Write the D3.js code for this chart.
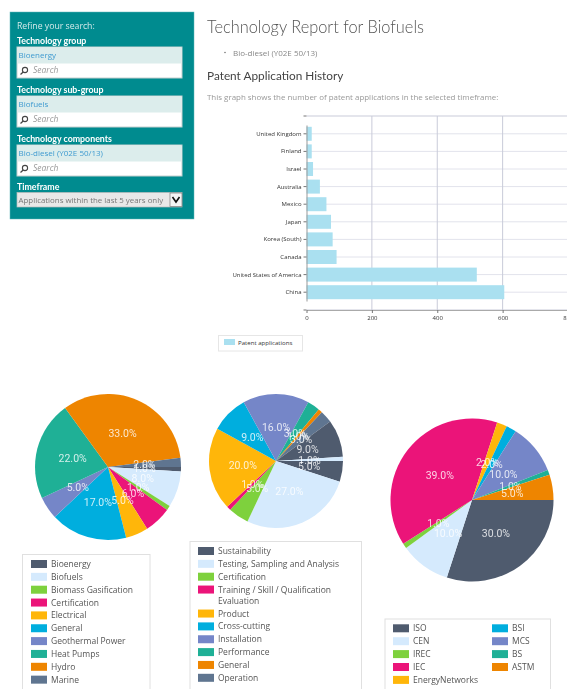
<!DOCTYPE html>
<html>
<head>
<meta charset="utf-8">
<script src="https://cdn.jsdelivr.net/npm/d3@7"></script>
<style>
    html, body { margin: 0; padding: 0; background: #fff; overflow: hidden; }
    svg { display: block; font-family: "Open Sans", sans-serif; filter: blur(0.45px); }
</style>
</head>
<body>
<svg width="567" height="689"></svg>
<script>
// Datos de la gráfica de barras
const countries = ['United Kingdom', 'Finland', 'Israel', 'Australia', 'Mexico', 'Japan', 'Korea (South)', 'Canada', 'United States of America', 'China'];
const patents = [16, 16, 20, 41, 61, 75, 80, 92, 521, 605];
const xTicks = [0, 200, 400, 600, 800];

// Datos de las tartas
const palette = ['#4f5b6e', '#d5eafd', '#7ed13d', '#eb1479', '#ffb60a', '#00aede', '#7586c8', '#1fb096', '#ee8500', '#5f7590'];
const pie1Names = ['Bioenergy', 'Biofuels', 'Biomass Gasification', 'Certification', 'Electrical', 'General', 'Geothermal Power', 'Heat Pumps', 'Hydro', 'Marine'];
const pie1Values = [1, 8, 1, 6, 5, 17, 5, 22, 33, 2];
const pie2Names = ['Sustainability', 'Testing, Sampling and Analysis', 'Certification', ['Training / Skill / Qualification', 'Evaluation'], 'Product', 'Cross-cutting', 'Installation', 'Performance', 'General', 'Operation'];
const pie2Values = [5, 27, 5, 1, 20, 9, 16, 3, 1, 3, 9, 1];
const pie3Names = ['ISO', 'CEN', 'IREC', 'IEC', 'EnergyNetworks', 'BSI', 'MCS', 'BS', 'ASTM'];
const pie3Values = [30, 10, 1, 39, 2, 2, 10, 1, 5];

// Textos del panel lateral
const filters = [
    { title: 'Technology group', value: 'Bioenergy', y: 47 },
    { title: 'Technology sub-group', value: 'Biofuels', y: 96 },
    { title: 'Technology components', value: 'Bio-diesel (Y02E 50/13)', y: 145 }
];

const svg = d3.select('svg');

function addText(parent, x, y, str, size, color) {
    return parent.append('text')
        .attr('x', x)
        .attr('y', y)
        .attr('font-size', size)
        .attr('fill', color)
        .text(str);
}

// Panel lateral
const side = svg.append('g');
side.append('rect').attr('x', 10).attr('y', 12).attr('width', 184).attr('height', 207)
    .attr('fill', '#008b8f').attr('stroke', '#5fb9bb').attr('stroke-width', 0.5);
addText(side, 17, 29, 'Refine your search:', 8.7, '#d4eaea');

filters.forEach(f => {
    addText(side, 17, f.y - 3, f.title, 8.8, '#ffffff').attr('font-family', 'Lato').attr('font-weight', 700);
    side.append('rect').attr('x', 17).attr('y', f.y).attr('width', 165).attr('height', 31)
        .attr('fill', '#fff').attr('stroke', '#c4cfcf').attr('stroke-width', 1);
    side.append('rect').attr('x', 17.5).attr('y', f.y + 0.5).attr('width', 164).attr('height', 16)
        .attr('fill', '#dcedec');
    addText(side, 18.5, f.y + 11, f.value, 8, '#3f9bd0');
    side.append('circle').attr('cx', 25).attr('cy', f.y + 23).attr('r', 2.6)
        .attr('fill', 'none').attr('stroke', '#444').attr('stroke-width', 1.1);
    side.append('line').attr('x1', 23.2).attr('y1', f.y + 25).attr('x2', 20.5).attr('y2', f.y + 27.5)
        .attr('stroke', '#444').attr('stroke-width', 1.3);
    addText(side, 33, f.y + 26, 'Search', 8.5, '#999').attr('font-style', 'italic');
});

addText(side, 17, 190, 'Timeframe', 8.8, '#ffffff').attr('font-family', 'Lato').attr('font-weight', 700);
side.append('rect').attr('x', 17).attr('y', 192.5).attr('width', 165).attr('height', 14.5)
    .attr('fill', '#e8e8e8').attr('stroke', '#bbb').attr('stroke-width', 0.7);
addText(side, 18.5, 203, 'Applications within the last 5 years only', 7.9, '#777');
side.append('rect').attr('x', 170).attr('y', 193).attr('width', 12).attr('height', 13.5)
    .attr('fill', '#f4f4f4').attr('stroke', '#777').attr('stroke-width', 0.7);
side.append('path').attr('d', 'M172.5,197 L176,202 L179.5,197')
    .attr('fill', 'none').attr('stroke', '#111').attr('stroke-width', 1.6);

// Cabecera
addText(svg, 207, 33, 'Technology Report for Biofuels', 18, '#555')
    .attr('font-family', 'Lato').attr('font-weight', 300)
    .attr('textLength', 217).attr('lengthAdjust', 'spacingAndGlyphs');
svg.append('circle').attr('cx', 225).attr('cy', 52.5).attr('r', 0.8).attr('fill', '#777');
addText(svg, 233, 55.5, 'Bio-diesel (Y02E 50/13)', 8, '#888');
addText(svg, 207, 80, 'Patent Application History', 11.8, '#444').attr('font-family', 'Lato');
addText(svg, 207, 100, 'This graph shows the number of patent applications in the selected timeframe:', 7.95, '#999');

// Gráfica de barras
const plot = { left: 306.5, right: 568, top: 116, bottom: 310 };
const x = d3.scaleLinear().domain([0, 800]).range([plot.left, plot.right]);
const y = d3.scaleBand().domain(countries).range([plot.top + 9, plot.bottom - 9]).paddingInner(0.2).paddingOuter(0.1);
const yMid = d => y(d) + y.bandwidth() / 2;

const bars = svg.append('g');
bars.selectAll('line.h').data(countries).enter().append('line')
    .attr('x1', plot.left).attr('x2', plot.right)
    .attr('y1', yMid).attr('y2', yMid)
    .attr('stroke', '#e2e3ec').attr('stroke-width', 1);
bars.selectAll('line.v').data(xTicks.slice(1)).enter().append('line')
    .attr('x1', d => x(d)).attr('x2', d => x(d))
    .attr('y1', plot.top).attr('y2', plot.bottom)
    .attr('stroke', '#c9cbd9').attr('stroke-width', 1);
[plot.top, plot.bottom].forEach(v => {
    bars.append('line').attr('x1', plot.left).attr('x2', plot.right).attr('y1', v).attr('y2', v)
        .attr('stroke', '#c9cbd9').attr('stroke-width', 1);
});
bars.selectAll('rect').data(countries).enter().append('rect')
    .attr('x', plot.left)
    .attr('y', d => yMid(d) - 7)
    .attr('width', (d, i) => x(patents[i]) - plot.left)
    .attr('height', 14)
    .attr('fill', '#aae0f0');

const xAxis = svg.append('g')
    .attr('transform', `translate(0,${plot.bottom})`)
    .call(d3.axisBottom(x).tickValues(xTicks).tickSize(3).tickSizeOuter(0));
const yAxis = svg.append('g')
    .attr('transform', `translate(${plot.left},0)`)
    .call(d3.axisLeft(y).tickSize(3).tickSizeOuter(0).tickPadding(2));
[xAxis, yAxis].forEach(a => {
    a.selectAll('text').attr('font-family', '"Open Sans", sans-serif').attr('font-size', 6).attr('fill', '#333');
    a.selectAll('line').attr('stroke', '#777');
});
xAxis.select('.domain').attr('stroke', '#aaa');
yAxis.select('.domain').attr('stroke', '#999');
yAxis.append('line').attr('x1', -3).attr('x2', 0).attr('y1', plot.top).attr('y2', plot.top).attr('stroke', '#777');
yAxis.append('line').attr('x1', -3).attr('x2', 0).attr('y1', plot.bottom).attr('y2', plot.bottom).attr('stroke', '#777');

// Leyenda de las barras
svg.append('rect').attr('x', 218.5).attr('y', 335.5).attr('width', 84).attr('height', 15.5)
    .attr('fill', '#fff').attr('stroke', '#e6e6e6');
svg.append('rect').attr('x', 224).attr('y', 339).attr('width', 11).attr('height', 6).attr('fill', '#aae0f0');
addText(svg, 238, 344.5, 'Patent applications', 6.1, '#333');

// Tartas
function drawPie(cx, cy, radius, values) {
    const g = svg.append('g').attr('transform', `translate(${cx},${cy})`);
    // Empieza en el este y gira en sentido horario
    const pie = d3.pie().sort(null).startAngle(Math.PI / 2).endAngle(Math.PI * 2.5);
    const arc = d3.arc().innerRadius(0).outerRadius(radius);
    const labelArc = d3.arc().innerRadius(radius * 0.5).outerRadius(radius * 0.5);
    const arcs = pie(values);
    g.selectAll('path').data(arcs).enter().append('path')
        .attr('d', arc)
        .attr('fill', (d, i) => palette[i % palette.length]);
    g.selectAll('text').data(arcs).enter().append('text')
        .attr('transform', d => `translate(${labelArc.centroid(d)})`)
        .attr('text-anchor', 'middle')
        .attr('dy', '0.35em')
        .attr('font-family', 'Roboto')
        .attr('font-size', 10.5)
        .attr('fill', '#fff')
        .attr('fill-opacity', 0.8)
        .text(d => d.data.toFixed(1) + '%');
}

drawPie(108, 467, 73, pie1Values);
drawPie(276, 461, 67, pie2Values);
drawPie(472, 500, 81.5, pie3Values);

// Leyendas de las tartas
function legendBox(x0, y0, w, h) {
    svg.append('rect').attr('x', x0).attr('y', y0).attr('width', w).attr('height', h)
        .attr('fill', '#fff').attr('stroke', '#e0e0e0').attr('stroke-width', 1);
}

function legendRow(i, name, swatchX, rowY) {
    svg.append('rect').attr('x', swatchX).attr('y', rowY - 4).attr('width', 16).attr('height', 8).attr('fill', palette[i]);
    const lines = Array.isArray(name) ? name : [name];
    lines.forEach((line, k) => {
        addText(svg, swatchX + 20, rowY + 3 + k * 11, line, 8.5, '#555');
    });
}

legendBox(22.5, 554.5, 127.5, 150);
pie1Names.forEach((n, i) => legendRow(i, n, 31, 564 + i * 12.85));

legendBox(190, 541.5, 171.5, 160);
let rowY = 551;
pie2Names.forEach((n, i) => {
    // La fila con dos líneas ocupa más alto
    const wrapped = Array.isArray(n);
    legendRow(i, n, 198, rowY);
    rowY += wrapped ? 24 : 12.85;
});

legendBox(385, 619, 165.5, 80);
pie3Names.forEach((n, i) => {
    const col = i < 5 ? 0 : 1;
    const row = i < 5 ? i : i - 5;
    legendRow(i, n, col === 0 ? 393 : 492, 628.3 + row * 12.9);
});
</script>
</body>
</html>
